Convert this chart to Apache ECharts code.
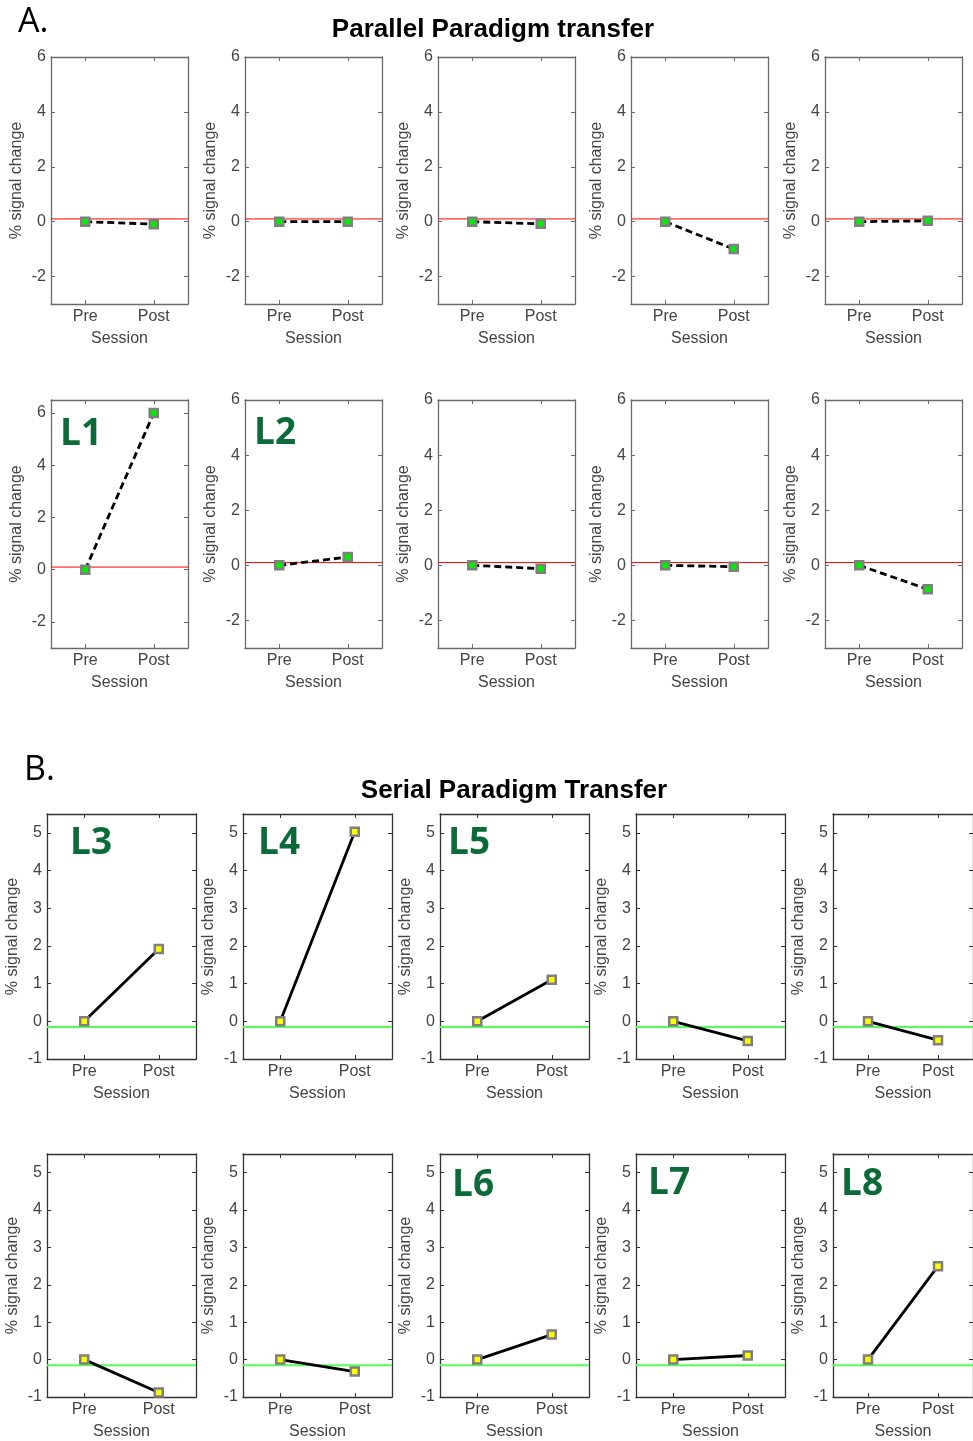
<!DOCTYPE html>
<html>
<head>
<meta charset="utf-8">
<script src="https://cdn.jsdelivr.net/npm/echarts@6/dist/echarts.min.js"></script>
<style>
  html, body { margin: 0; padding: 0; background: #fff; }
  #chart { width: 973px; height: 1441px; }
</style>
</head>
<body>
<div id="chart"></div>
<script>
// x categories (plotted at x = 1, 2 on a 0.5..2.5 axis)
const sessions = ['Pre', 'Post']
const xMin = 0.5, xMax = 2.5

// A. parallel paradigm transfer, 2 rows x 5 panels
const parallelPre = [0, 0, 0, 0, 0, 0, 0, 0, 0, 0]
const parallelPost = [-0.09, 0.0, -0.08, -1.0, 0.03, 6.0, 0.3, -0.12, -0.05, -0.87]
const parallelTags = ['', '', '', '', '', 'L1', 'L2', '', '', '']
const parallelYMax = [6, 6, 6, 6, 6, 6.5, 6, 6, 6, 6]
const parallelYTicks = [-2, 0, 2, 4, 6]
const parallelRef = 0.1

// B. serial paradigm transfer, 2 rows x 5 panels
const serialPre = [0, 0, 0, 0, 0, 0, 0, 0, 0, 0]
const serialPost = [1.92, 5.03, 1.1, -0.52, -0.5, -0.88, -0.32, 0.67, 0.11, 2.5]
const serialTags = ['L3', 'L4', 'L5', '', '', '', '', 'L6', 'L7', 'L8']
const serialYTicks = [-1, 0, 1, 2, 3, 4, 5]
const serialRef = -0.15

const chart = echarts.init(document.getElementById('chart'))

const FONT = '"Liberation Sans", Arial, sans-serif'
const TXT = '#444'

// panel boxes in px
const aLeft = [51, 245, 438, 631, 825]
const aTop = [57, 400]
const bLeft = [47, 243, 440, 636, 833]
const bTop = [814, 1154]
// tag offsets inside each panel (dx from box left, dy from box top)
const aTagPos = [[9, 15], [9, 15], [9, 15], [9, 15], [9, 15], [9, 16], [9, 15], [9, 15], [9, 15], [9, 15]]
const bTagPos = [[23, 11], [15, 11], [8, 11], [8, 11], [8, 11], [8, 13], [8, 13], [12, 13], [12, 11], [8, 12]]

const grids = [], xAxes = [], yAxes = [], series = [], graphics = []

function addPanel(o) {
  const g = grids.length
  grids.push({ left: o.left, top: o.top, width: o.width, height: o.height,
    show: false, containLabel: false })
  const tick = () => ({ show: true, inside: true, length: 4, lineStyle: { color: o.axisColor, width: 1 } })
  const line = () => ({ show: true, onZero: false, lineStyle: { color: o.axisColor, width: 1.3 } })
  // bottom x
  xAxes.push({
    gridIndex: g, type: 'value', min: xMin, max: xMax, position: 'bottom',
    axisLine: line(), splitLine: { show: false },
    axisTick: Object.assign({ customValues: [1, 2] }, tick()),
    axisLabel: { customValues: [1, 2], formatter: v => sessions[Math.round(v) - 1] || '',
      color: TXT, fontFamily: FONT, fontSize: 16, margin: 5 },
    name: 'Session', nameLocation: 'middle', nameGap: 27,
    nameTextStyle: { color: TXT, fontFamily: FONT, fontSize: 16 }
  })
  // top x (ticks only)
  xAxes.push({
    gridIndex: g, type: 'value', min: xMin, max: xMax, position: 'top',
    axisLine: line(), splitLine: { show: false },
    axisTick: Object.assign({ customValues: [1, 2] }, tick()),
    axisLabel: { show: false }
  })
  // left y
  yAxes.push({
    gridIndex: g, type: 'value', min: o.ymin, max: o.ymax, position: 'left',
    axisLine: line(), splitLine: { show: false },
    axisTick: Object.assign({ customValues: o.yticks }, tick()),
    axisLabel: { customValues: o.yticks, color: TXT, fontFamily: FONT, fontSize: 16, margin: 5 },
    name: '% signal change', nameLocation: 'middle', nameRotate: 90, nameGap: 26,
    nameTextStyle: { color: TXT, fontFamily: FONT, fontSize: 16 }
  })
  // right y (ticks only)
  yAxes.push({
    gridIndex: g, type: 'value', min: o.ymin, max: o.ymax, position: 'right',
    axisLine: line(), splitLine: { show: false },
    axisTick: Object.assign({ customValues: o.yticks }, tick()),
    axisLabel: { show: false }
  })
  // reference line across the panel
  series.push({
    type: 'line', xAxisIndex: 2 * g, yAxisIndex: 2 * g,
    data: [[xMin, o.ref], [xMax, o.ref]],
    symbol: 'none', silent: true, animation: false, z: 2,
    lineStyle: { color: o.refColor, width: o.refWidth }
  })
  // pre -> post
  series.push({
    type: 'line', xAxisIndex: 2 * g, yAxisIndex: 2 * g,
    data: [[1, o.pre], [2, o.post]],
    symbol: 'rect', symbolSize: 8,
    itemStyle: { color: o.fill, borderColor: '#7f7f7f', borderWidth: 2.5 },
    lineStyle: { color: '#000', width: 2.8, type: o.dash ? [7, 4] : 'solid' },
    animation: false, silent: true, z: 3
  })
  if (o.tag) {
    graphics.push({
      type: 'text', left: o.left + o.tagPos[0], top: o.top + o.tagPos[1], z: 10,
      style: { text: o.tag, fill: '#0b6b38', font: 'bold 37px "Open Sans", "DejaVu Sans", sans-serif' }
    })
  }
}

for (let i = 0; i < 10; i++) {
  const r = Math.floor(i / 5), c = i % 5
  addPanel({
    left: aLeft[c], top: aTop[r], width: 137, height: r === 0 ? 247 : 248,
    ymin: -3, ymax: parallelYMax[i], yticks: parallelYTicks,
    pre: parallelPre[i], post: parallelPost[i], fill: '#00ee00', dash: true,
    ref: parallelRef, refColor: '#ff0000', refWidth: 1,
    axisColor: '#6a6a6a', tag: parallelTags[i], tagPos: aTagPos[i]
  })
}
for (let i = 0; i < 10; i++) {
  const r = Math.floor(i / 5), c = i % 5
  addPanel({
    left: bLeft[c], top: bTop[r], width: 149, height: r === 0 ? 245 : 243,
    ymin: -1, ymax: 5.5, yticks: serialYTicks,
    pre: serialPre[i], post: serialPost[i], fill: '#ffff00', dash: false,
    ref: serialRef, refColor: '#55ff55', refWidth: 2,
    axisColor: '#333333', tag: serialTags[i], tagPos: bTagPos[i]
  })
}

graphics.push(
  { type: 'text', left: 18, top: 5, style: { text: 'A.', fill: '#000', font: '34px "Open Sans", sans-serif' } },
  { type: 'text', left: 24, top: 753, style: { text: 'B.', fill: '#000', font: '34px "Open Sans", sans-serif' } }
)

chart.setOption({
  backgroundColor: '#fff',
  animation: false,
  title: [
    { text: 'Parallel Paradigm transfer', left: 488, top: 12, textAlign: 'center',
      textStyle: { fontFamily: FONT, fontWeight: 'bold', fontSize: 26, color: '#000' } },
    { text: 'Serial Paradigm Transfer', left: 509, top: 773, textAlign: 'center',
      textStyle: { fontFamily: FONT, fontWeight: 'bold', fontSize: 26, color: '#000' } }
  ],
  grid: grids,
  xAxis: xAxes,
  yAxis: yAxes,
  series: series,
  graphic: graphics
})
</script>
</body>
</html>
